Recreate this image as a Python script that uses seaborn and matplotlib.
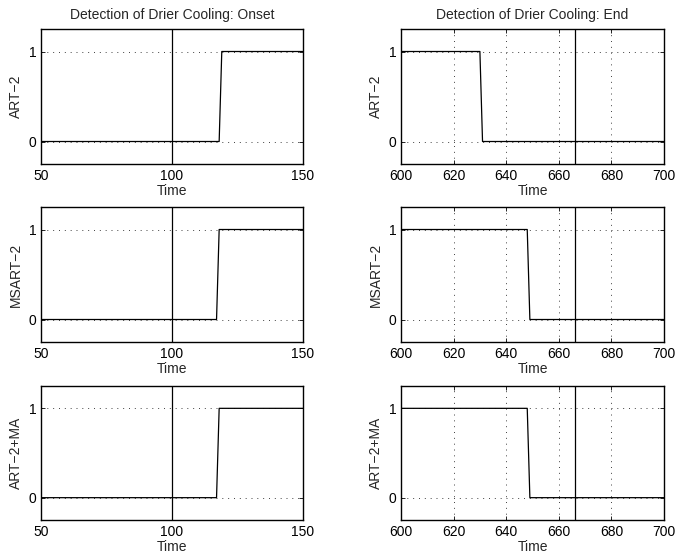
import matplotlib
matplotlib.use("Agg")
import matplotlib.pyplot as plt
import seaborn as sns
import pandas as pd

# ---- data ----
methods = ["ART\u22122", "MSART\u22122", "ART\u22122+MA"]

onset_time = {
    "ART\u22122": [50, 118, 119, 150],
    "MSART\u22122": [50, 117, 118, 150],
    "ART\u22122+MA": [50, 117, 118, 150],
}
onset_value = [0, 0, 1, 1]

end_time = {
    "ART\u22122": [600, 630, 631, 700],
    "MSART\u22122": [600, 648, 649, 700],
    "ART\u22122+MA": [600, 648, 649, 700],
}
end_value = [1, 1, 0, 0]

onset_marker = 100
end_marker = 666

onset_xticks = [50, 100, 150]
end_xticks = [600, 620, 640, 660, 680, 700]
yticks = [0, 1]

titles = ["Detection of Drier Cooling: Onset", "Detection of Drier Cooling: End"]

# ---- style ----
sns.set_style("white")
plt.rcParams["font.family"] = ["Liberation Sans", "DejaVu Sans"]
plt.rcParams["font.size"] = 10

fig = plt.figure(figsize=(6.77, 5.55), dpi=100)

W, H = 677, 555
cols = [(41, 303), (401, 664)]
rows = [(29, 164), (207, 342), (386, 520)]

for r, m in enumerate(methods):
    for c in range(2):
        x0, x1 = cols[c]
        top, bot = rows[r]
        ax = fig.add_axes([x0 / W, 1 - bot / H, (x1 - x0) / W, (bot - top) / H])
        if c == 0:
            df = pd.DataFrame({"Time": onset_time[m], "v": onset_value})
            xt = onset_xticks
            marker = onset_marker
        else:
            df = pd.DataFrame({"Time": end_time[m], "v": end_value})
            xt = end_xticks
            marker = end_marker
        sns.lineplot(data=df, x="Time", y="v", ax=ax, color="black",
                     linewidth=0.9, estimator=None, sort=False)
        ax.axvline(marker, color="black", linewidth=0.9)
        ax.set_xlim(xt[0], xt[-1])
        ax.set_ylim(-0.25, 1.25)
        ax.set_xticks(xt)
        ax.set_yticks(yticks)
        ax.grid(True, linestyle=(0, (1, 5)), color="0.25", linewidth=0.7)
        ax.set_axisbelow(True)
        ax.tick_params(direction="in", length=3, bottom=True, left=True,
                       top=True, right=True, labelsize=10, pad=3.5,
                       width=0.6, colors="black")
        for s in ax.spines.values():
            s.set_linewidth(1.0)
            s.set_color("black")
        ax.set_xlabel("Time", fontsize=10, labelpad=0.5)
        ax.set_ylabel(m, fontsize=10, labelpad=4)
        if r == 0:
            ax.set_title(titles[c], fontsize=10, pad=7)

fig.savefig("out.png", dpi=100)
